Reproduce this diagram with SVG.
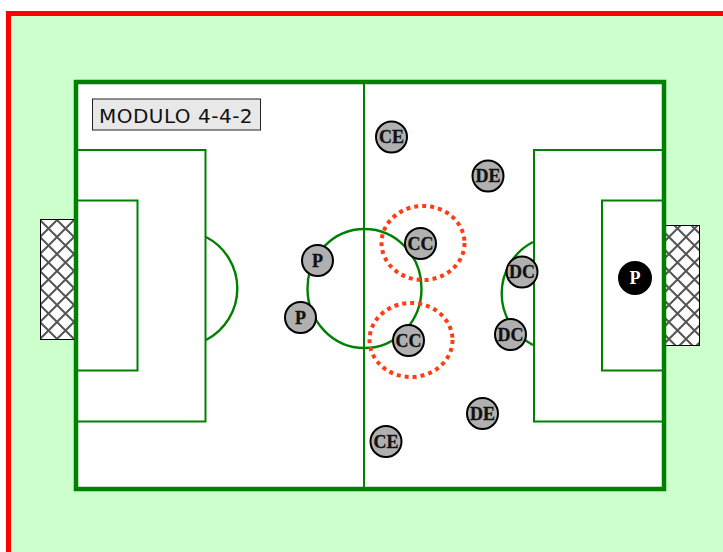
<svg xmlns="http://www.w3.org/2000/svg" width="723" height="552" viewBox="0 0 723 552">
<style>
.line{fill:none;stroke:#008000;stroke-width:2}
.arc{fill:none;stroke:#008000;stroke-width:2.400}
.net{fill:url(#net);stroke:#000;stroke-width:1}
.ring{fill:none;stroke:#ff3c14;stroke-width:4;stroke-dasharray:4 4}
.pl circle{fill:#b0b0b0;stroke:#000;stroke-width:2}
.pl text{font:bold 18px "Liberation Serif",serif;text-anchor:middle;fill:#111;stroke:#111;stroke-width:.3}
.gk circle{fill:#000;stroke:#000;stroke-width:2}
.gk text{font:bold 18px "Liberation Serif",serif;text-anchor:middle;fill:#fff}
</style>
<defs>
<pattern id="net" width="17" height="17" patternUnits="userSpaceOnUse" x="40" y="220">
<rect width="17" height="17" fill="#fff"/>
<path d="M0 0L17 17M17 0L0 17" stroke="#555" stroke-width="2"/>
</pattern>
</defs>
<rect x="8.500" y="13.500" width="730" height="560" fill="#ccffcc" stroke="#ff0000" stroke-width="5"/>
<g id="goal-left"><rect class="net" x="40.500" y="219.500" width="35" height="120"/></g>
<g id="goal-right"><rect class="net" x="664.500" y="225.500" width="35" height="120"/></g>
<g id="pitch">
<rect x="76" y="82" width="588" height="407" fill="#fff"/>
<path class="line" d="M76 150H205.500V421.500H76M76 200.500H137.500V370.500H76"/>
<path class="line" d="M664 150H534V421.500H664M664 200.500H602V370.500H664"/>
<path class="arc" d="M206 237A58 58 0 0 1 206 340"/>
<path class="arc" d="M533 242A58 58 0 0 0 533 345"/>
<ellipse class="arc" cx="364.500" cy="288.500" rx="57" ry="59.500"/>
<path class="line" d="M364 82V489"/>
<rect x="76" y="82" width="588" height="407" fill="none" stroke="#008000" stroke-width="4.500"/>
</g>
<g id="title">
<rect x="92.500" y="99" width="168" height="31" fill="#e8e8e8" stroke="#222" stroke-width="1"/>
<text x="176" y="122.500" font-family="DejaVu Sans,sans-serif" font-size="20" letter-spacing="0.500" text-anchor="middle" fill="#111">MODULO 4-4-2</text>
</g>
<g id="ring-1"><ellipse class="ring" cx="423" cy="243" rx="41.500" ry="37"/></g>
<g id="ring-2"><ellipse class="ring" cx="411" cy="340" rx="41.500" ry="37"/></g>
<g id="p1" class="pl"><circle cx="317.500" cy="260.500" r="15.500"/><text x="317.500" y="266.500">P</text></g>
<g id="p2" class="pl"><circle cx="300.500" cy="317.500" r="15.500"/><text x="300.500" y="323.500">P</text></g>
<g id="cc1" class="pl"><circle cx="420.500" cy="243.500" r="15.500"/><text x="420.500" y="249.500">CC</text></g>
<g id="cc2" class="pl"><circle cx="408.500" cy="340.500" r="15.500"/><text x="408.500" y="346.500">CC</text></g>
<g id="ce1" class="pl"><circle cx="391.500" cy="137" r="15.500"/><text x="391.500" y="143">CE</text></g>
<g id="ce2" class="pl"><circle cx="386" cy="441.500" r="15.500"/><text x="386" y="447.500">CE</text></g>
<g id="de1" class="pl"><circle cx="488" cy="176" r="15.500"/><text x="488" y="182">DE</text></g>
<g id="de2" class="pl"><circle cx="482.500" cy="413.500" r="15.500"/><text x="482.500" y="419.500">DE</text></g>
<g id="dc1" class="pl"><circle cx="522" cy="272" r="15.500"/><text x="522" y="278">DC</text></g>
<g id="dc2" class="pl"><circle cx="510.500" cy="334.500" r="15.500"/><text x="510.500" y="340.500">DC</text></g>
<g id="gk" class="gk"><circle cx="635" cy="278" r="16"/><text x="635" y="284">P</text></g>
</svg>
